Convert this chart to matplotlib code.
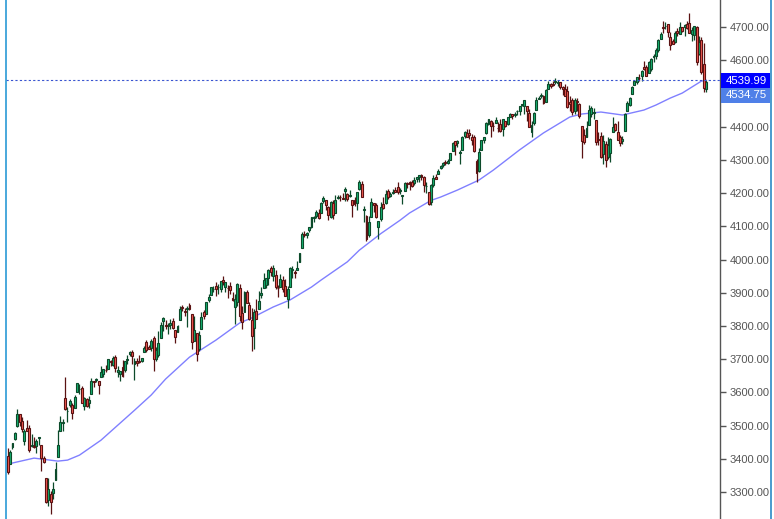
import matplotlib
matplotlib.use('Agg')
import matplotlib.pyplot as plt
from matplotlib.patches import Rectangle
from matplotlib.lines import Line2D
import numpy as np

plt.rcParams['font.family'] = ['Liberation Sans', 'DejaVu Sans']

# ---- daily OHLC candles ----
opens = [3408,3384,3434,3459,3500,3534,3515,3453,3493,3494,3439,3439,3439,3464,3441,3403,3342,3277,3293,
 3296,3336,3406,3485,3508,3584,3543,3563,3562,3552,3600,3610,3612,3560,3580,3567,3594,3635,3638,3635,
 3645,3654,3668,3671,3694,3683,3706,3660,3656,3675,3667,3696,3714,3723,3684,3693,3693,3694,3723,3751,3736,3734,
 3764,3699,3713,3764,3816,3803,3801,3802,3814,3788,3782,3817,3858,3845,3852,3863,3837,3755,3778,
 3732,3791,3841,3837,3878,3893,3910,3920,3916,3911,3939,3918,3915,3921,3885,3858,3873,3915,3839,
 3842,3903,3864,3818,3793,3844,3851,3892,3915,3924,3943,3973,3950,3954,3914,3917,3938,3919,3880,3917,3969,3963,3967,
 3993,4034,4075,4074,4089,4097,4124,4130,4141,4140,4175,4179,4159,4129,4171,4139,4185,4188,4186,4206,4198,
 4191,4179,4178,4170,4211,4228,4150,4130,4075,4129,4169,4165,4099,4121,4168,4170,4205,4191,4201,4210,
 4217,4206,4191,4206,4229,4233,4233,4229,4243,4248,4255,4249,4220,4204,4173,4224,4249,4256,4274,4284,4293,4291,
 4301,4327,4356,4351,4321,4330,4372,4381,4381,4370,4368,4297,4266,4331,4361,4382,4409,4417,4403,4410,4396,
 4407,4392,4416,4407,4429,4438,4436,4446,4447,4464,4462,4462,4440,4383,4410,4450,4484,4491,4493,4475,4514,4529,
 4529,4534,4532,4535,4518,4514,4506,4474,4479,4447,4477,4469,4402,4374,4368,4406,4439,4442,4420,4363,4371,
 4317,4348,4310,4320,4384,4407,4385,4368,4358,4386,4448,4464,4497,4524,4533,4547,4553,4579,4580,4563,4573,
 4611,4614,4630,4663,4699,4702,4708,4670,4659,4655,4689,4680,4701,4700,4708,4712,4679,4675,4700,4620,4660,
 4590,4513]
highs = [3432,3426,3447,3482,3550,3534,3527,3489,3516,3502,3476,3465,3461,3466,3441,3409,3342,3342,3304,
 3330,3389,3486,3529,3521,3645,3557,3581,3569,3593,3628,3624,3619,3586,3582,3589,3643,3635,3644,3635,
 3678,3670,3682,3699,3697,3708,3712,3678,3665,3698,3695,3711,3725,3727,3703,3702,3711,3703,3740,3757,3744,3760,
 3770,3738,3784,3811,3826,3817,3810,3820,3823,3788,3804,3860,3862,3853,3860,3870,3837,3830,3778,
 3784,3843,3848,3872,3895,3916,3919,3931,3926,3935,3950,3933,3922,3931,3902,3895,3928,3925,3861,
 3904,3907,3873,3853,3851,3882,3904,3918,3960,3944,3970,3981,3984,3969,3922,3955,3949,3942,3919,3978,3981,3968,3994,
 4021,4083,4087,4083,4099,4129,4131,4148,4151,4173,4191,4180,4160,4175,4179,4194,4194,4193,4201,4218,4199,
 4210,4180,4187,4202,4238,4236,4162,4134,4131,4184,4171,4170,4116,4172,4188,4209,4213,4203,4213,4218,
 4234,4215,4195,4233,4233,4236,4238,4249,4249,4255,4257,4252,4233,4204,4226,4255,4256,4271,4286,4293,4301,4302,
 4320,4355,4358,4361,4331,4372,4386,4393,4393,4377,4376,4302,4336,4359,4370,4415,4422,4419,4415,4430,4413,
 4422,4424,4417,4429,4441,4439,4445,4449,4461,4468,4480,4462,4454,4418,4444,4490,4493,4502,4495,4513,4538,4531,
 4537,4546,4541,4535,4522,4529,4521,4491,4486,4487,4485,4471,4402,4394,4417,4465,4463,4457,4420,4385,4383,
 4375,4356,4368,4366,4429,4412,4416,4375,4373,4440,4476,4488,4521,4540,4550,4560,4572,4598,4585,4598,4608,
 4620,4636,4664,4684,4718,4714,4708,4685,4664,4688,4697,4714,4701,4708,4717,4743,4700,4702,4703,4672,4670,
 4652,4540]
lows = [3354,3384,3428,3458,3495,3500,3481,3441,3484,3419,3435,3433,3416,3440,3364,3388,3268,3259,3233,
 3279,3336,3405,3485,3485,3548,3511,3557,3519,3552,3600,3594,3568,3547,3556,3552,3594,3617,3630,3595,
 3645,3645,3660,3670,3679,3678,3660,3645,3634,3645,3660,3686,3710,3686,3636,3678,3689,3690,3723,3720,3730,3726,
 3663,3695,3706,3764,3784,3790,3777,3792,3792,3750,3781,3817,3846,3831,3797,3847,3732,3755,3694,
 3725,3791,3822,3837,3871,3893,3902,3890,3895,3901,3923,3901,3885,3895,3874,3805,3859,3815,3790,
 3842,3868,3818,3724,3730,3820,3851,3885,3915,3915,3924,3949,3935,3910,3886,3917,3902,3889,3853,3917,3944,3944,3967,
 3993,4034,4068,4065,4083,4096,4114,4125,4121,4140,4171,4150,4118,4126,4123,4139,4182,4177,4181,4176,4175,
 4188,4128,4162,4148,4209,4188,4112,4057,4069,4129,4143,4125,4062,4115,4151,4167,4182,4187,4197,4203,
 4198,4198,4167,4206,4216,4210,4219,4225,4233,4234,4239,4203,4201,4165,4165,4217,4241,4256,4271,4280,4286,4288,
 4300,4327,4314,4340,4289,4330,4365,4368,4363,4345,4325,4233,4262,4329,4351,4378,4405,4368,4388,4410,4385,
 4385,4373,4398,4404,4429,4424,4430,4436,4435,4461,4438,4417,4398,4368,4406,4450,4482,4485,4468,4474,4514,4515,
 4522,4527,4521,4513,4494,4492,4457,4447,4435,4439,4448,4427,4305,4348,4368,4406,4430,4422,4346,4345,4307,
 4288,4279,4304,4295,4384,4386,4360,4343,4349,4386,4448,4462,4497,4524,4528,4536,4538,4570,4551,4563,4569,
 4595,4604,4624,4663,4681,4694,4671,4630,4648,4651,4673,4680,4684,4672,4694,4682,4658,4660,4585,4615,4560,
 4505,4505]
closes = [3361,3419,3447,3477,3534,3512,3489,3483,3484,3427,3443,3436,3453,3465,3401,3391,3271,3310,3270,
 3310,3369,3443,3510,3509,3550,3545,3573,3537,3585,3627,3610,3568,3582,3558,3578,3635,3630,3638,3622,
 3662,3669,3667,3699,3692,3702,3673,3668,3663,3648,3695,3701,3722,3709,3695,3687,3690,3703,3735,3727,3732,3756,
 3701,3727,3748,3804,3825,3800,3801,3810,3795,3768,3799,3852,3853,3841,3855,3850,3751,3787,3714,
 3774,3826,3830,3872,3887,3916,3911,3910,3916,3935,3933,3931,3914,3907,3877,3881,3925,3829,3811,
 3902,3870,3820,3769,3842,3821,3875,3899,3939,3943,3969,3963,3974,3916,3913,3941,3911,3889,3910,3975,3971,3959,3973,
 4020,4078,4074,4080,4097,4129,4128,4142,4125,4170,4185,4163,4135,4173,4135,4180,4188,4187,4183,4211,4181,
 4193,4165,4168,4202,4233,4188,4152,4063,4113,4174,4163,4128,4116,4159,4156,4197,4188,4196,4201,4204,
 4202,4208,4193,4230,4226,4227,4220,4239,4247,4255,4247,4224,4222,4167,4225,4246,4242,4267,4281,4291,4292,4298,
 4320,4352,4344,4358,4321,4370,4385,4369,4374,4360,4327,4259,4323,4359,4368,4412,4422,4402,4401,4419,4395,
 4387,4423,4403,4429,4437,4432,4437,4448,4461,4468,4480,4448,4400,4406,4442,4480,4486,4496,4470,4509,4529,4523,
 4524,4537,4535,4520,4514,4493,4459,4469,4443,4481,4474,4433,4358,4354,4396,4449,4455,4443,4353,4360,4308,
 4357,4300,4346,4364,4400,4391,4361,4351,4364,4438,4471,4487,4520,4536,4550,4545,4567,4575,4552,4596,4605,
 4614,4631,4661,4680,4698,4702,4685,4647,4649,4683,4683,4701,4689,4705,4698,4683,4691,4702,4595,4655,4566,
 4515,4535]

# ---- moving average line ----
ma_idx = [0, 11, 21, 25, 30, 39, 46, 53, 60, 66, 76, 87, 97, 102, 111, 118, 127, 131, 142, 147,
          156, 164, 168, 177, 181, 188, 197, 203, 214, 224, 235, 240, 248, 257, 266, 271, 277, 282, 290, 292]
ma_val = [3384, 3402, 3393, 3396, 3411, 3456, 3501, 3546, 3592, 3640, 3706, 3757, 3809, 3824, 3857, 3878,
          3917, 3938, 3993, 4028, 4078, 4118, 4140, 4178, 4188, 4209, 4239, 4269, 4330, 4381, 4429, 4438,
          4444, 4435, 4450, 4465, 4486, 4501, 4537, 4540]

# ---- axis / labels ----
y_ticks = [3300, 3400, 3500, 3600, 3700, 3800, 3900, 4000, 4100, 4200, 4300, 4400, 4500, 4600, 4700]
hidden_tick = 4500          # covered by the price labels in the chart
price_line = 4539.99
price_labels = ["4539.99", "4534.75"]

W, H = 774, 519
fig = plt.figure(figsize=(W / 100, H / 100), dpi=100)
ax = fig.add_axes([6 / W, 0, 714 / W, 1])

o = np.array(opens, float); h = np.array(highs, float)
l = np.array(lows, float); c = np.array(closes, float)
x = np.arange(len(c))
up = c >= o

GREEN, GREEN_EDGE = '#16b473', '#0c4a2a'
RED, RED_EDGE = '#f25a52', '#5a1212'

ax.plot(ma_idx, ma_val, color='#8080ff', lw=1.0, zorder=1.5)

ax.vlines(x[up], l[up], h[up], color=GREEN_EDGE, lw=0.9, zorder=2)
ax.vlines(x[~up], l[~up], h[~up], color=RED_EDGE, lw=0.9, zorder=2)
bottoms = np.minimum(o, c)
heights = np.maximum(np.abs(c - o), 1.5)
ax.bar(x[up], heights[up], bottom=bottoms[up], width=0.8, color=GREEN,
       edgecolor=GREEN_EDGE, linewidth=0.8, zorder=3)
ax.bar(x[~up], heights[~up], bottom=bottoms[~up], width=0.8, color=RED,
       edgecolor=RED_EDGE, linewidth=0.8, zorder=3)

ax.axhline(price_line, color='#3a55d0', lw=0.8, ls=(0, (2, 2)), zorder=4)

ax.set_xlim(-0.71, 297.8)
ax.set_ylim(3218.7, 4781.3)
for s in ['top', 'left', 'bottom']:
    ax.spines[s].set_visible(False)
ax.spines['right'].set_color('#555555')
ax.spines['right'].set_linewidth(1.0)
ax.set_xticks([])
ax.yaxis.tick_right()
ax.set_yticks(y_ticks)
ax.set_yticklabels(["" if v == hidden_tick else f"{v:.2f}" for v in y_ticks])
ax.tick_params(axis='y', length=4, width=1, color='#555555', labelcolor='#555555',
               labelsize=8.0, pad=3)

# price label boxes
box_specs = [(73, '#0000ff'), (88, '#4f80e8')]
for (top, col), txt in zip(box_specs, price_labels):
    fig.add_artist(Rectangle((721 / W, 1 - (top + 15) / H), 49 / W, 15 / H,
                             transform=fig.transFigure, facecolor=col,
                             edgecolor='none', zorder=10))
    fig.text(746 / W, 1 - (top + 7.5) / H, txt, color='white', fontsize=8.2,
             ha='center', va='center', zorder=11)

# panel borders
fig.add_artist(Line2D([6 / W, 6 / W], [0, 1], transform=fig.transFigure,
                      color='#2a9ad6', lw=1.2, zorder=12))
fig.add_artist(Line2D([771 / W, 771 / W], [0, 1], transform=fig.transFigure,
                      color='#2a8ac6', lw=1.2, zorder=12))

fig.savefig('out.png', dpi=100, facecolor='white')
